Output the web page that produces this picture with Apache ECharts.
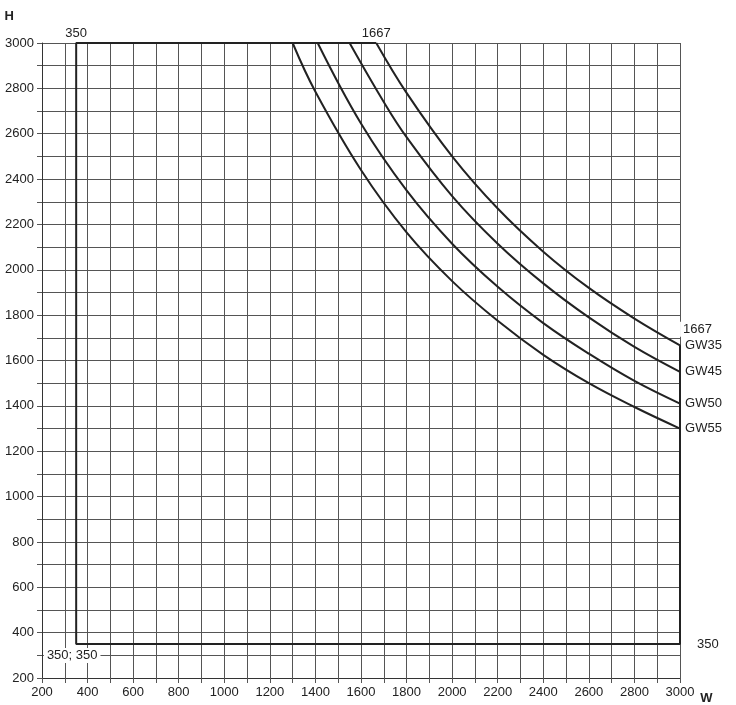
<!DOCTYPE html>
<html><head><meta charset="utf-8">
<script src="https://cdn.jsdelivr.net/npm/echarts@6/dist/echarts.min.js"></script>
<style>html,body{margin:0;background:#fff}#main{width:736px;height:705px}</style>
</head><body><div id="main"></div>
<script>
// outer frame of the usable area (W, H)
var frame = [[1667, 3000], [350, 3000], [350, 350], [3000, 350], [3000, 1667]];
// limit curves
var gw35 = [[1667,3000],[1800,2780],[2000,2500],[2200,2270],[2400,2080],[2600,1920],[2800,1785],[3000,1667]];
var gw45 = [[1550,3000],[1700,2740],[1800,2585],[2000,2325],[2200,2115],[2400,1940],[2600,1790],[2800,1660],[3000,1550]];
var gw50 = [[1410,3000],[1600,2645],[1800,2350],[2000,2115],[2200,1925],[2400,1765],[2600,1630],[2800,1510],[3000,1410]];
var gw55 = [[1300,3000],[1400,2785],[1600,2440],[1800,2165],[2000,1950],[2200,1775],[2400,1625],[2600,1500],[2800,1395],[3000,1300]];
var curveNames = ["GW35", "GW45", "GW50", "GW55"];

var myChart = echarts.init(document.getElementById("main"));
var txt = { color: "#222", fontSize: 13, fontFamily: "Liberation Sans, Arial" };
var boxLabel = Object.assign({ backgroundColor: "#fff", padding: [1, 3] }, txt);

function curve(data, name) {
  var pts = data.map(function (p, i) {
    if (i < data.length - 1) return p;
    return { value: p, label: Object.assign({ show: true, position: "right", distance: 2, formatter: name }, boxLabel) };
  });
  return { type: "line", data: pts, symbol: "circle", symbolSize: 0.1, showAllSymbol: true,
    smooth: 0.4, lineStyle: { color: "#222", width: 2 }, itemStyle: { color: "#222" }, z: 5 };
}

var axisCommon = {
  type: "value", min: 200, max: 3000, interval: 100,
  axisLine: { show: true, lineStyle: { color: "#333" } },
  axisTick: { show: true, length: 5, lineStyle: { color: "#555" } },
  splitLine: { show: true, lineStyle: { color: "#555", width: 1 } },
  axisLabel: Object.assign({ formatter: function (v) { return v % 200 === 0 ? v : ""; } }, txt)
};

var option = {
  animation: false,
  grid: { left: 42, right: 56, top: 43, bottom: 27 },
  xAxis: Object.assign({}, axisCommon, { name: "W", nameLocation: "end", nameGap: 12,
    nameTextStyle: Object.assign({}, txt, { fontWeight: "bold", verticalAlign: "top", padding: [14, 0, 0, 0] }) }),
  yAxis: Object.assign({}, axisCommon, { name: "H", nameGap: 20,
    nameTextStyle: Object.assign({}, txt, { fontWeight: "bold", align: "right", padding: [0, 28, 0, 0] }) }),
  series: [
    {
      type: "line", symbol: "circle", symbolSize: 0.1, showAllSymbol: true,
      lineStyle: { color: "#222", width: 2 }, itemStyle: { color: "#222" }, z: 6,
      data: [
        { value: frame[0], label: Object.assign({ show: true, position: "top", distance: 2, formatter: "1667" }, boxLabel) },
        { value: frame[1], label: Object.assign({ show: true, position: "top", distance: 2, formatter: "350" }, boxLabel) },
        { value: frame[2], label: Object.assign({ show: true, position: "bottom", distance: 4, offset: [-4, 0], formatter: "350; 350" }, boxLabel) },
        { value: frame[3], label: Object.assign({ show: true, position: "right", distance: 6, offset: [8, 0], formatter: "350" }, boxLabel) },
        { value: frame[4], label: Object.assign({ show: true, position: "right", distance: 0, offset: [0, -16], formatter: "1667" }, boxLabel) }
      ]
    },
    curve(gw35, curveNames[0]),
    curve(gw45, curveNames[1]),
    curve(gw50, curveNames[2]),
    curve(gw55, curveNames[3])
  ]
};
myChart.setOption(option);
</script></body></html>
